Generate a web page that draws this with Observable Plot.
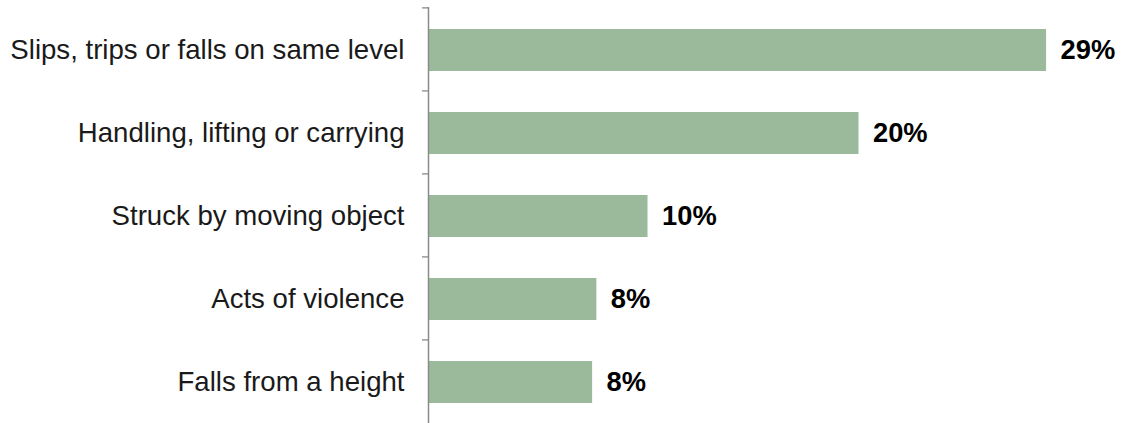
<!DOCTYPE html>
<html><head><meta charset="utf-8">
<script src="https://cdn.jsdelivr.net/npm/d3@7"></script>
<script src="https://cdn.jsdelivr.net/npm/@observablehq/plot@0.6"></script>
<style>html,body{margin:0;padding:0;background:#fff;overflow:hidden}</style>
</head><body><div id="chart"></div>
<script>
const categories = [
  "Slips, trips or falls on same level",
  "Handling, lifting or carrying",
  "Struck by moving object",
  "Acts of violence",
  "Falls from a height"
];
const values = [29.0, 20.2, 10.3, 7.9, 7.7];
const valueLabels = ["29%", "20%", "10%", "8%", "8%"];

const data = categories.map((c, i) => ({category: c, value: values[i], label: valueLabels[i]}));
const H = 423, MT = 7, MB = 0;
const band = (H - MT - MB) / categories.length;

const chart = Plot.plot({
  width: 1124,
  height: H,
  marginLeft: 428,
  marginRight: 14,
  marginTop: MT,
  marginBottom: MB,
  style: {fontFamily: '"Liberation Sans", Arial, sans-serif', background: "#fff"},
  x: {domain: [0, 32], axis: null},
  y: {domain: categories, paddingInner: 0.5, paddingOuter: 0.25, label: null, axis: null},
  marks: [
    Plot.barX(data, {x: "value", y: "category", fill: "#9bba9c", dy: 1}),
    Plot.ruleX([0], {stroke: "#8a8a8a", strokeWidth: 1.5}),
    Plot.axisY({tickSize: 6, tickFormat: () => "", dy: -band / 2, stroke: "#8a8a8a", strokeWidth: 1.3}),
    Plot.axisY({tickSize: 0, tickPadding: 24, fontSize: 27.6, fill: "#1a1a1a", label: null, dy: 1}),
    Plot.text(data, {x: "value", y: "category", text: "label", textAnchor: "start", dx: 14, dy: 1, fontSize: 27.3, fontWeight: "bold", fill: "#000"})
  ]
});
document.getElementById("chart").appendChild(chart);
</script>
</body></html>
